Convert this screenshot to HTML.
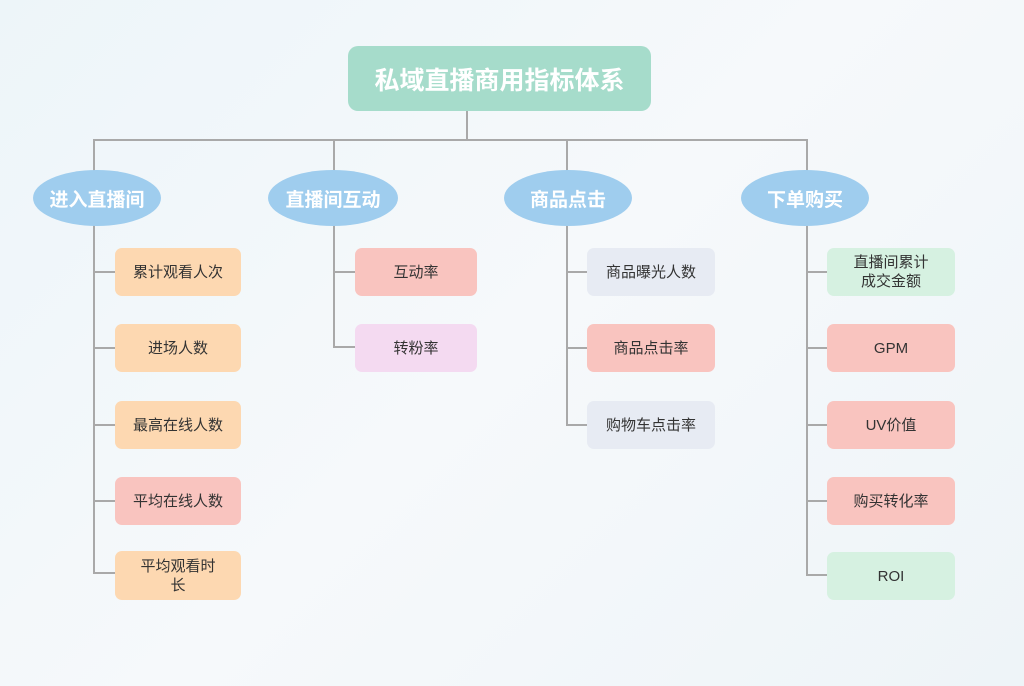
<!DOCTYPE html>
<html><head><meta charset="utf-8"><style>
body{margin:0;width:1024px;height:686px;overflow:hidden;background:linear-gradient(135deg,#edf5f9 0%,#f6f9fb 50%,#eef4f8 100%);font-family:"Liberation Sans","Noto Sans CJK SC",sans-serif;position:relative}
.a{position:absolute;box-sizing:border-box;display:flex;align-items:center;justify-content:center;text-align:center}
.l{position:absolute;background:#a9a9a9}
.e{border-radius:50%;background:#9fcdee;color:#fff;font-weight:bold;font-size:19px}
.b{border-radius:7px;font-size:15px;color:#333;line-height:19px}
.o{background:#fdd8b1}.p{background:#f9c4bf}.u{background:#f4daf1}.g{background:#e7ebf3}.n{background:#d6f1e1}
</style></head><body>
<div class="a" style="left:348px;top:46px;width:303px;height:65px;background:#a6dccb;border-radius:10px;color:#fff;font-weight:bold;font-size:25px">私域直播商用指标体系</div>
<div class="l" style="left:466px;top:111px;width:2px;height:29px"></div>
<div class="l" style="left:93px;top:139px;width:714px;height:2px"></div>
<div class="l" style="left:93px;top:139px;width:2px;height:434px"></div>
<div class="l" style="left:333px;top:139px;width:2px;height:208px"></div>
<div class="l" style="left:566px;top:139px;width:2px;height:286px"></div>
<div class="l" style="left:806px;top:139px;width:2px;height:436px"></div>
<div class="a e" style="left:33px;top:170px;width:128px;height:56px">进入直播间</div>
<div class="a e" style="left:268px;top:170px;width:130px;height:56px">直播间互动</div>
<div class="a e" style="left:504px;top:170px;width:128px;height:56px">商品点击</div>
<div class="a e" style="left:741px;top:170px;width:128px;height:56px">下单购买</div>
<!-- col1 -->
<div class="l" style="left:93px;top:271px;width:22px;height:2px"></div>
<div class="l" style="left:93px;top:347px;width:22px;height:2px"></div>
<div class="l" style="left:93px;top:424px;width:22px;height:2px"></div>
<div class="l" style="left:93px;top:500px;width:22px;height:2px"></div>
<div class="l" style="left:93px;top:572px;width:22px;height:2px"></div>
<div class="a b o" style="left:115px;top:248px;width:126px;height:48px">累计观看人次</div>
<div class="a b o" style="left:115px;top:324px;width:126px;height:48px">进场人数</div>
<div class="a b o" style="left:115px;top:401px;width:126px;height:48px">最高在线人数</div>
<div class="a b p" style="left:115px;top:477px;width:126px;height:48px">平均在线人数</div>
<div class="a b o" style="left:115px;top:551px;width:126px;height:49px">平均观看时<br>长</div>
<!-- col2 -->
<div class="l" style="left:333px;top:271px;width:22px;height:2px"></div>
<div class="l" style="left:333px;top:346px;width:22px;height:2px"></div>
<div class="a b p" style="left:355px;top:248px;width:122px;height:48px">互动率</div>
<div class="a b u" style="left:355px;top:324px;width:122px;height:48px">转粉率</div>
<!-- col3 -->
<div class="l" style="left:566px;top:271px;width:21px;height:2px"></div>
<div class="l" style="left:566px;top:347px;width:21px;height:2px"></div>
<div class="l" style="left:566px;top:424px;width:21px;height:2px"></div>
<div class="a b g" style="left:587px;top:248px;width:128px;height:48px">商品曝光人数</div>
<div class="a b p" style="left:587px;top:324px;width:128px;height:48px">商品点击率</div>
<div class="a b g" style="left:587px;top:401px;width:128px;height:48px">购物车点击率</div>
<!-- col4 -->
<div class="l" style="left:806px;top:271px;width:21px;height:2px"></div>
<div class="l" style="left:806px;top:347px;width:21px;height:2px"></div>
<div class="l" style="left:806px;top:424px;width:21px;height:2px"></div>
<div class="l" style="left:806px;top:500px;width:21px;height:2px"></div>
<div class="l" style="left:806px;top:574px;width:21px;height:2px"></div>
<div class="a b n" style="left:827px;top:248px;width:128px;height:48px">直播间累计<br>成交金额</div>
<div class="a b p" style="left:827px;top:324px;width:128px;height:48px">GPM</div>
<div class="a b p" style="left:827px;top:401px;width:128px;height:48px">UV价值</div>
<div class="a b p" style="left:827px;top:477px;width:128px;height:48px">购买转化率</div>
<div class="a b n" style="left:827px;top:552px;width:128px;height:48px">ROI</div>
</body></html>
